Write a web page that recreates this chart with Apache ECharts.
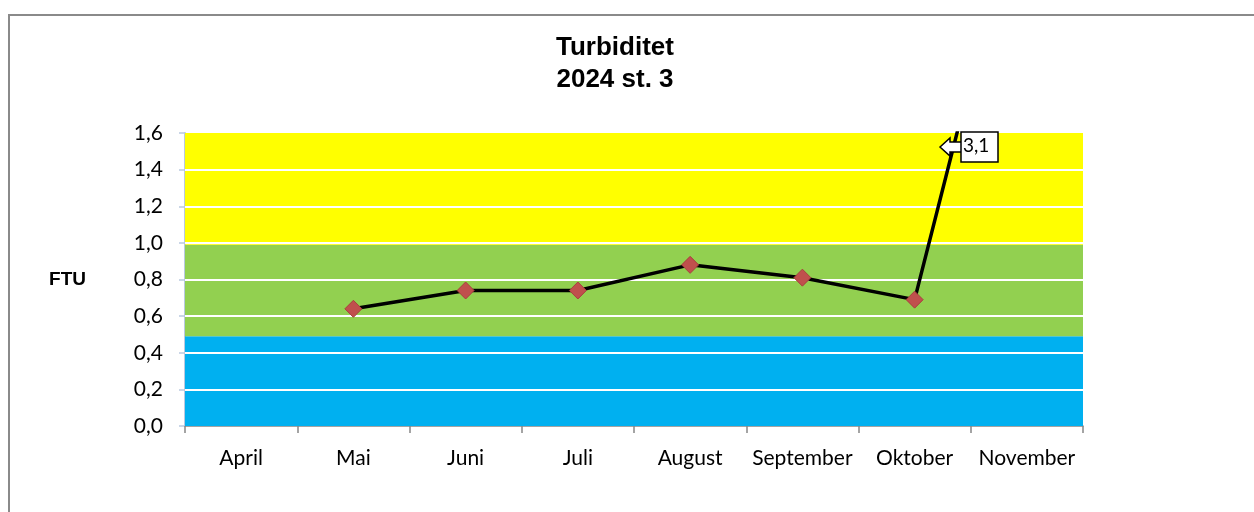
<!DOCTYPE html>
<html>
<head>
<meta charset="utf-8">
<script src="https://cdn.jsdelivr.net/npm/echarts@6/dist/echarts.min.js"></script>
<style>
  html, body { margin: 0; padding: 0; background: #fff; }
  #main { width: 1254px; height: 512px; }
</style>
</head>
<body>
<div id="main"></div>
<script>
// måneder
const months = ['April', 'Mai', 'Juni', 'Juli', 'August', 'September', 'Oktober', 'November'];
// turbiditet FTU, st. 3
const ftu = [null, 0.64, 0.74, 0.74, 0.88, 0.81, 0.69, 3.1];
// fargebånd (fra, til)
const bands = [[0, 0.49, '#00b0f0'], [0.49, 0.99, '#92d050'], [0.99, 1.6, '#ffff00']];
const yTicks = [0, 0.2, 0.4, 0.6, 0.8, 1.0, 1.2, 1.4, 1.6];

const chart = echarts.init(document.getElementById('main'));

const fmt = v => v.toFixed(1).replace('.', ',');
const lastVal = ftu[ftu.length - 1];

chart.setOption({
    animation: false,
    backgroundColor: '#fff',
    title: {
        text: 'Turbiditet\n2024 st. 3',
        left: 610,
        top: 27,
        textAlign: 'center',
        textStyle: {
            fontFamily: 'Liberation Sans',
            fontWeight: 'bold',
            fontSize: 26,
            lineHeight: 32,
            color: '#000'
        }
    },
    grid: { left: 185, right: 171, top: 133, bottom: 86 },
    xAxis: {
        type: 'category',
        data: months,
        boundaryGap: true,
        axisLine: { lineStyle: { color: '#868686', width: 1.5 } },
        axisTick: { show: true, length: 7, lineStyle: { color: '#868686', width: 1.5 } },
        axisLabel: { fontFamily: 'Lato', fontSize: 21, color: '#000', margin: 22, interval: 0, hideOverlap: false },
        splitLine: { show: false }
    },
    yAxis: {
        type: 'value',
        min: 0,
        max: 1.6,
        interval: 0.2,
        name: 'FTU',
        nameLocation: 'middle',
        nameRotate: 0,
        nameGap: 99,
        nameTextStyle: { fontFamily: 'Liberation Sans', fontWeight: 'bold', fontSize: 19, color: '#000' },
        axisLine: { show: true, lineStyle: { color: '#b9c9e0', width: 2 } },
        axisTick: { show: true, length: 6, lineStyle: { color: '#b9c9e0', width: 1.5 } },
        axisLabel: {
            fontFamily: 'Lato', fontSize: 21, color: '#000', margin: 22,
            formatter: v => fmt(v)
        },
        splitLine: { show: true, lineStyle: { color: '#ffffff', width: 2 } }
    },
    series: [{
        type: 'line',
        data: ftu,
        clip: true,
        z: 5,
        symbol: 'diamond',
        symbolSize: 17,
        showAllSymbol: true,
        lineStyle: { color: '#000', width: 3.5 },
        itemStyle: { color: '#c0504d', borderColor: '#a8403d', borderWidth: 1 },
        markArea: {
            silent: true,
            z: 1,
            data: bands.map(b => [
                { yAxis: b[0], itemStyle: { color: b[2], opacity: 1 } },
                { yAxis: b[1] }
            ])
        }
    }, {
        // rutenett over fargebåndene
        type: 'line',
        data: [],
        markLine: {
            silent: true,
            symbol: 'none',
            label: { show: false },
            lineStyle: { color: '#fff', width: 2, type: 'solid' },
            data: yTicks.slice(1, -1).map(v => ({ yAxis: v }))
        }
    }],
    graphic: [{
        type: 'rect',
        shape: { x: 9, y: 15, width: 1400, height: 700 },
        style: { fill: 'none', stroke: '#8a8a8a', lineWidth: 2 },
        z: 100
    }, {
        type: 'polygon',
        shape: { points: [[940, 147], [950, 138], [950, 142], [962, 142], [962, 152], [950, 152], [950, 156]] },
        style: { fill: '#fff', stroke: '#000', lineWidth: 1.5 },
        z: 100
    }, {
        type: 'rect',
        shape: { x: 961, y: 132, width: 37, height: 30 },
        style: { fill: '#fff', stroke: '#000', lineWidth: 1.5 },
        z: 100
    }, {
        type: 'text',
        left: 963, top: 136,
        style: { text: fmt(lastVal), font: '19px Lato', fill: '#000' },
        z: 101
    }]
});
</script>
</body>
</html>
